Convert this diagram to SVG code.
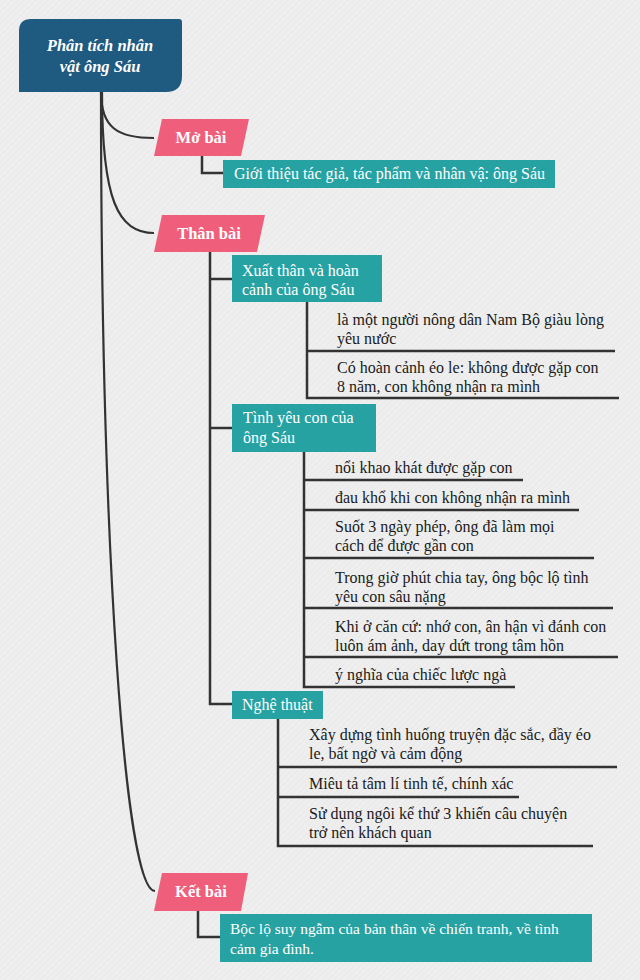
<svg xmlns="http://www.w3.org/2000/svg" width="640" height="980" viewBox="0 0 640 980">
  <defs>
    <pattern id="tex" width="6" height="6" patternUnits="userSpaceOnUse">
      <rect width="6" height="6" fill="#eeeeee"/>
      <path d="M0 6 L6 0" stroke="#e4e4e4" stroke-width="0.6"/>
    </pattern>
  </defs>
  <style>
    .bg { fill: url(#tex); }
    .root { fill: #1f5a80; }
    .pink { fill: #ef5f7b; }
    .teal { fill: #27a2a3; }
    .wire { fill: none; stroke: #333333; stroke-width: 2.5; }
    .curve { fill: none; stroke: #333333; stroke-width: 2.2; }
    text { font-family: 'Liberation Serif', 'DejaVu Serif', serif; }
    .rt { font-size: 16.5px; font-weight: bold; font-style: italic; fill: #ffffff; text-anchor: middle; }
    .pt { font-size: 16.5px; font-weight: bold; fill: #ffffff; text-anchor: middle; }
    .tt { font-size: 16px; fill: #ffffff; }
    .tk { font-size: 15.5px; fill: #ffffff; }
    .lt { font-size: 16px; fill: #1a1a1a; }
  </style>
  <rect class="bg" x="0" y="0" width="640" height="980"/>

  <g id="connectors">
    <path class="curve" d="M101 92 C101 128 118 138 154 138"/>
    <path class="curve" d="M102 92 C102 200 118 233 154 233"/>
    <path class="curve" d="M101 92 C101 550 125 891 155 891"/>
    <path class="wire" d="M202 156 V173 H223"/>
    <path class="wire" d="M210 252 V704 H232"/>
    <path class="wire" d="M210 279 H232"/>
    <path class="wire" d="M210 428 H232"/>
    <path class="wire" d="M307 302 V398 H619"/>
    <path class="wire" d="M307 351 H615"/>
    <path class="wire" d="M304 452 V687 H515"/>
    <path class="wire" d="M304 480 H523"/>
    <path class="wire" d="M304 510 H579"/>
    <path class="wire" d="M304 558 H594"/>
    <path class="wire" d="M304 608 H613"/>
    <path class="wire" d="M304 657 H618"/>
    <path class="wire" d="M278 719 V846 H593"/>
    <path class="wire" d="M278 767 H617"/>
    <path class="wire" d="M278 797 H519"/>
    <path class="wire" d="M198 911 V937 H220"/>
  </g>

  <g id="root">
    <path class="root" d="M31 19 H179 Q182 19 182 22 V76 Q182 92 166 92 H19 V31 Q19 19 31 19 Z"/>
    <text class="rt" x="100" y="51">Phân tích nhân</text>
    <text class="rt" x="100" y="72">vật ông Sáu</text>
  </g>

  <g id="mo-bai">
    <polygon class="pink" points="162,119 249,119 241,156 154,156"/>
    <text class="pt" x="201" y="143">Mở bài</text>
  </g>
  <g id="mo-bai-1">
    <rect class="teal" x="223" y="160" width="332" height="28"/>
    <text class="tt" x="234" y="179">Giới thiệu tác giả, tác phẩm và nhân vậ: ông Sáu</text>
  </g>

  <g id="than-bai">
    <polygon class="pink" points="162,215 265,215 257,252 154,252"/>
    <text class="pt" x="209" y="239">Thân bài</text>
  </g>

  <g id="xuat-than">
    <rect class="teal" x="232" y="255" width="150" height="47"/>
    <text class="tt" x="242" y="276">Xuất thân và hoàn</text>
    <text class="tt" x="242" y="295">cảnh của ông Sáu</text>
  </g>
  <g id="xt-1">
    <text class="lt" x="337" y="325">là một người nông dân Nam Bộ giàu lòng</text>
    <text class="lt" x="337" y="344">yêu nước</text>
  </g>
  <g id="xt-2">
    <text class="lt" x="337" y="373">Có hoàn cảnh éo le: không được gặp con</text>
    <text class="lt" x="337" y="392">8 năm, con không nhận ra mình</text>
  </g>

  <g id="tinh-yeu">
    <rect class="teal" x="232" y="404" width="144" height="48"/>
    <text class="tt" x="243" y="423">Tình yêu con của</text>
    <text class="tt" x="243" y="443">ông Sáu</text>
  </g>
  <g id="ty-1"><text class="lt" x="335" y="473">nổi khao khát được gặp con</text></g>
  <g id="ty-2"><text class="lt" x="335" y="503">đau khổ khi con không nhận ra mình</text></g>
  <g id="ty-3">
    <text class="lt" x="335" y="532">Suốt 3 ngày phép, ông đã làm mọi</text>
    <text class="lt" x="335" y="551">cách để được gần con</text>
  </g>
  <g id="ty-4">
    <text class="lt" x="335" y="583">Trong giờ phút chia tay, ông bộc lộ tình</text>
    <text class="lt" x="335" y="602">yêu con sâu nặng</text>
  </g>
  <g id="ty-5">
    <text class="lt" x="335" y="632">Khi ở căn cứ: nhớ con, ân hận vì đánh con</text>
    <text class="lt" x="335" y="651">luôn ám ảnh, day dứt trong tâm hồn</text>
  </g>
  <g id="ty-6"><text class="lt" x="335" y="680">ý nghĩa của chiếc lược ngà</text></g>

  <g id="nghe-thuat">
    <rect class="teal" x="232" y="691" width="91" height="28"/>
    <text class="tt" x="242" y="710">Nghệ thuật</text>
  </g>
  <g id="nt-1">
    <text class="lt" x="309" y="740">Xây dựng tình huống truyện đặc sắc, đầy éo</text>
    <text class="lt" x="309" y="759">le, bất ngờ và cảm động</text>
  </g>
  <g id="nt-2"><text class="lt" x="309" y="789">Miêu tả tâm lí tinh tế, chính xác</text></g>
  <g id="nt-3">
    <text class="lt" x="309" y="819">Sử dụng ngôi kể thứ 3 khiến câu chuyện</text>
    <text class="lt" x="309" y="838">trở nên khách quan</text>
  </g>

  <g id="ket-bai">
    <polygon class="pink" points="162,873 248,873 241,911 154,911"/>
    <text class="pt" x="201" y="897">Kết bài</text>
  </g>
  <g id="ket-bai-1">
    <rect class="teal" x="220" y="914" width="372" height="48"/>
    <text class="tk" x="230" y="934">Bộc lộ suy ngẫm của bản thân về chiến tranh, về tình</text>
    <text class="tk" x="230" y="954">cảm gia đình.</text>
  </g>
</svg>
